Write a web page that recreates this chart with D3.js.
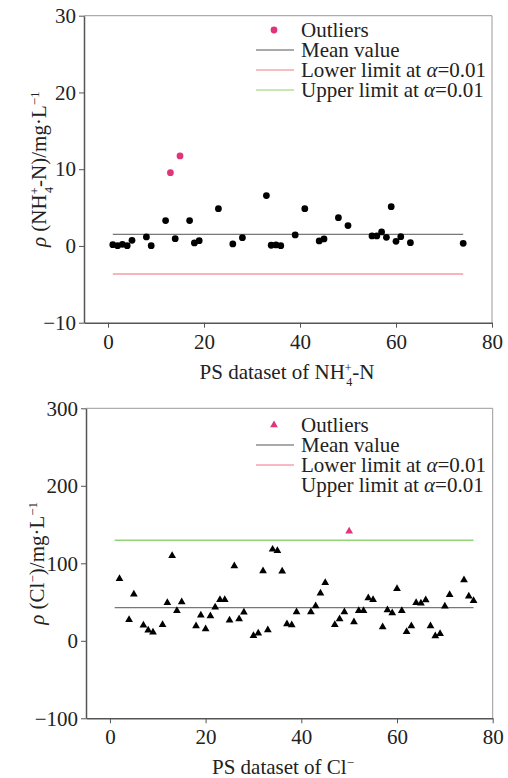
<!DOCTYPE html>
<html>
<head>
<meta charset="utf-8">
<script src="https://cdn.jsdelivr.net/npm/d3@7"></script>
<style>
  body { margin: 0; background: #fff; }
  text { font-family: "Liberation Serif", "Times New Roman", "DejaVu Serif", serif; fill: #222; }
</style>
</head>
<body>
<div id="chart"></div>
<script>
// x ticks shared by both panels
const xTicks = [0, 20, 40, 60, 80];

// NH4+-N panel
const nhTicks = [-10, 0, 10, 20, 30];
const nhIndex = [1, 2, 3, 4, 5, 8, 9, 12, 14, 17, 18, 19, 23, 26, 28, 33, 34, 35, 36, 39, 41, 44, 45, 48, 50, 55, 56, 57, 58, 59, 60, 61, 63, 74];
const nhValues = [0.17, 0.04, 0.22, 0.04, 0.74, 1.17, 0.04, 3.3, 0.95, 3.3, 0.39, 0.69, 4.86, 0.26, 1.08, 6.56, 0.09, 0.13, 0.04, 1.43, 4.86, 0.65, 0.91, 3.69, 2.65, 1.3, 1.3, 1.82, 1.13, 5.12, 0.61, 1.21, 0.43, 0.35];
const nhOutIndex = [13, 15];
const nhOutValues = [9.55, 11.73];
const nhMean = 1.52;
const nhLower = -3.65;
const nhCount = 74;

// Cl- panel
const clTicks = [-100, 0, 100, 200, 300];
const clIndex = [2, 4, 5, 7, 8, 9, 11, 12, 13, 14, 15, 18, 19, 20, 21, 22, 23, 24, 25, 26, 27, 28, 30, 31, 32, 33, 34, 35, 36, 37, 38, 39, 42, 43, 44, 45, 47, 48, 49, 51, 52, 53, 54, 55, 57, 58, 59, 60, 61, 62, 63, 64, 65, 66, 67, 68, 69, 70, 71, 74, 75, 76];
const clValues = [80.2, 27.3, 60, 20, 13.5, 11, 20.8, 49.2, 109.8, 38.8, 50, 19.1, 32.9, 15.2, 32, 43.2, 53, 53, 26.4, 96.5, 28.1, 36.8, 6.6, 9.7, 90, 13.9, 118, 116.3, 89.7, 21.7, 20.4, 37.2, 37.2, 44.9, 61.3, 75, 20.8, 28.1, 37.2, 24.3, 38.8, 38.8, 55.2, 53, 17.8, 39.7, 35.9, 67.2, 38.8, 11.8, 19.1, 49.2, 48.4, 52.6, 19.1, 6.2, 9.2, 44.5, 59.5, 78.5, 57.4, 51.7];
const clOutIndex = [50];
const clOutValues = [141.3];
const clMean = 42.7;
const clUpper = 129.7;
const clCount = 76;

const W = 508, H = 778;
const pink = "#e0357a";

const svg = d3.select("#chart").append("svg")
    .attr("width", W)
    .attr("height", H);

function drawPanel(p) {
    const x = d3.scaleLinear().domain([-5, 80]).range([p.left, p.right]);
    const y = d3.scaleLinear().domain([p.yTicks[0], p.yTicks[p.yTicks.length - 1]]).range([p.bottom, p.top]);
    const g = svg.append("g");

    // light frame on top and right
    g.append("path")
        .attr("d", `M${p.left},${p.top}H${p.right}V${p.bottom}`)
        .attr("fill", "none")
        .attr("stroke", "#999")
        .attr("stroke-width", 1);

    const xAxis = g.append("g")
        .attr("transform", `translate(0,${p.bottom})`)
        .call(d3.axisBottom(x).tickValues(xTicks).tickSize(5).tickPadding(6).tickSizeOuter(0));
    const yAxis = g.append("g")
        .attr("transform", `translate(${p.left},0)`)
        .call(d3.axisLeft(y).tickValues(p.yTicks).tickSize(5).tickPadding(3).tickSizeOuter(0)
            .tickFormat(d => d < 0 ? "\u2212" + Math.abs(d) : d));
    [xAxis, yAxis].forEach(a => {
        a.attr("font-family", null);
        a.select(".domain").attr("stroke", "#555").attr("stroke-width", 1.5);
        a.selectAll(".tick line").attr("stroke", "#555");
        a.selectAll(".tick text")
            .attr("fill", "#222")
            .style("font-size", "21px");
    });

    // reference lines from sample 1 to n
    p.hlines.forEach(h => {
        g.append("line")
            .attr("x1", x(1)).attr("x2", x(p.count))
            .attr("y1", y(h.value)).attr("y2", y(h.value))
            .attr("stroke", h.color)
            .attr("stroke-width", h.width);
    });

    const sym = d3.symbol().type(p.symbol).size(p.symbolSize);
    g.selectAll(".pt")
        .data(p.index.map((d, i) => [d, p.values[i]]))
        .join("path")
        .attr("class", "pt")
        .attr("d", sym)
        .attr("transform", d => `translate(${x(d[0])},${y(d[1])})`)
        .attr("fill", "#000");
    g.selectAll(".out")
        .data(p.outIndex.map((d, i) => [d, p.outValues[i]]))
        .join("path")
        .attr("class", "out")
        .attr("d", sym)
        .attr("transform", d => `translate(${x(d[0])},${y(d[1])})`)
        .attr("fill", pink);

    // legend
    const lg = g.append("g");
    p.legend.forEach((row, i) => {
        const ly = p.legendY + i * 20;
        if (row.kind === "sym") {
            lg.append("path").attr("d", sym).attr("fill", pink)
                .attr("transform", `translate(274,${ly})`);
        } else if (row.color) {
            lg.append("line")
                .attr("x1", 256).attr("x2", 294)
                .attr("y1", ly).attr("y2", ly)
                .attr("stroke", row.color).attr("stroke-width", 1);
        }
        const t = lg.append("text")
            .attr("x", 301).attr("y", ly + 7)
            .style("font-size", "21px");
        if (row.alpha) {
            t.append("tspan").text(row.label + " ");
            t.append("tspan").style("font-style", "italic").text("\u03b1");
            t.append("tspan").text("=0.01");
        } else {
            t.text(row.label);
        }
    });

    // x title
    const xt = g.append("text")
        .attr("x", p.xTitleX).attr("y", p.bottom + 56)
        .attr("text-anchor", "middle")
        .style("font-size", "21px");
    p.xTitle(xt);

    // y title
    const yt = g.append("text")
        .attr("transform", `translate(${p.yTitleX},${(p.top + p.bottom) / 2}) rotate(-90)`)
        .attr("text-anchor", "middle")
        .style("font-size", "21px");
    p.yTitle(yt);
}

function nh4(t, size) {
    t.append("tspan").text("NH");
    t.append("tspan").attr("baseline-shift", "super").style("font-size", size).text("+");
    t.append("tspan").attr("dx", "-0.45em").attr("baseline-shift", "sub").style("font-size", size).text("4");
}

drawPanel({
    left: 84, right: 492, top: 15.7, bottom: 322.7,
    yTicks: nhTicks,
    index: nhIndex, values: nhValues,
    outIndex: nhOutIndex, outValues: nhOutValues,
    count: nhCount,
    symbol: d3.symbolCircle, symbolSize: 36,
    hlines: [
        { value: nhMean, color: "#555", width: 1 },
        { value: nhLower, color: "#f7b5b8", width: 2 }
    ],
    legendY: 30,
    legend: [
        { kind: "sym", label: "Outliers" },
        { label: "Mean value", color: "#555" },
        { label: "Lower limit at", color: "#f07a80", alpha: true },
        { label: "Upper limit at", color: "#8fd16a", alpha: true }
    ],
    xTitleX: 287,
    xTitle: t => {
        t.append("tspan").text("PS dataset of ");
        nh4(t, "12px");
        t.append("tspan").attr("baseline-shift", "0").text("-N");
    },
    yTitleX: 46,
    yTitle: t => {
        t.append("tspan").style("font-style", "italic").text("\u03c1");
        t.append("tspan").text(" (");
        nh4(t, "12px");
        t.append("tspan").attr("baseline-shift", "0").text("-N)/mg\u00b7L");
        t.append("tspan").attr("baseline-shift", "super").style("font-size", "13px").text("\u22121");
    }
});

drawPanel({
    left: 86, right: 492.7, top: 408.3, bottom: 718.3,
    yTicks: clTicks,
    index: clIndex, values: clValues,
    outIndex: clOutIndex, outValues: clOutValues,
    count: clCount,
    symbol: d3.symbolTriangle, symbolSize: 26,
    hlines: [
        { value: clMean, color: "#555", width: 1 },
        { value: clUpper, color: "#93d377", width: 1.5 }
    ],
    legendY: 425,
    legend: [
        { kind: "sym", label: "Outliers" },
        { label: "Mean value", color: "#555" },
        { label: "Lower limit at", color: "#f0708a", alpha: true },
        { label: "Upper limit at", alpha: true }
    ],
    xTitleX: 283,
    xTitle: t => {
        t.append("tspan").text("PS dataset of Cl");
        t.append("tspan").attr("baseline-shift", "super").style("font-size", "13px").text("\u2212");
    },
    yTitleX: 44,
    yTitle: t => {
        t.append("tspan").style("font-style", "italic").text("\u03c1");
        t.append("tspan").text(" (Cl");
        t.append("tspan").attr("baseline-shift", "super").style("font-size", "13px").text("\u2212");
        t.append("tspan").attr("baseline-shift", "0").text(")/mg\u00b7L");
        t.append("tspan").attr("baseline-shift", "super").style("font-size", "13px").text("\u22121");
    }
});
</script>
</body>
</html>
